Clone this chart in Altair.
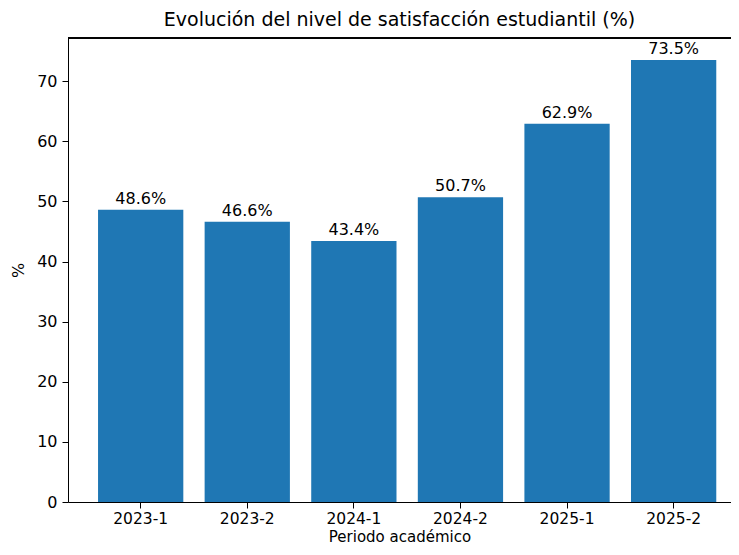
import altair as alt
import pandas as pd

periodos = ["2023-1", "2023-2", "2024-1", "2024-2", "2025-1", "2025-2"]
valores = [48.6, 46.6, 43.4, 50.7, 62.9, 73.5]
etiquetas = [f"{v:.1f}%" for v in valores]

df = pd.DataFrame({"periodo": periodos, "valor": valores, "etiqueta": etiquetas})

W, H = 663, 464
FONT = "DejaVu Sans"
ymax = 73.5 * 1.05

xenc = alt.X(
    "periodo:N",
    sort=periodos,
    title="Periodo académico",
    scale=alt.Scale(paddingInner=0.2, paddingOuter=0.21, align=0.671),
    axis=alt.Axis(labelAngle=0, domainColor="#000", tickColor="#000", tickSize=6,
                  labelPadding=3, labelFontSize=15.5, titleFontSize=15,
                  labelColor="#000", titleColor="#000", titlePadding=3,
                  labelFont=FONT, titleFont=FONT, titleFontWeight="normal"),
)
yenc = alt.Y(
    "valor:Q",
    title="%",
    scale=alt.Scale(domain=[0, ymax], nice=False, zero=True),
    axis=alt.Axis(values=[0, 10, 20, 30, 40, 50, 60, 70], grid=False,
                  domainColor="#000", tickColor="#000", tickSize=6,
                  labelPadding=5, labelFontSize=16, titleFontSize=16,
                  labelColor="#000", titleColor="#000", titlePadding=10,
                  labelFont=FONT, titleFont=FONT, titleFontWeight="normal"),
)

bars = alt.Chart(df).mark_bar(color="#1f77b4").encode(x=xenc, y=yenc)
text = alt.Chart(df).mark_text(baseline="bottom", dy=-3, fontSize=16, font=FONT, color="#000").encode(
    x=alt.X("periodo:N", sort=periodos),
    y="valor:Q",
    text="etiqueta:N",
)
top = alt.Chart(df).mark_rule(color="#000", strokeWidth=1).encode(
    y=alt.value(0), x=alt.value(0), x2=alt.value(W)
)

chart = alt.layer(bars, text, top).properties(
    width=W, height=H,
    title=alt.TitleParams("Evolución del nivel de satisfacción estudiantil (%)",
                          fontSize=19, font=FONT, fontWeight="normal", color="#000", offset=8),
    autosize=alt.AutoSizeParams(type="none"),
    padding={"left": 60, "top": 30, "right": 0, "bottom": 45},
).configure_view(stroke=None)

chart.save("out.html", embed_options={"renderer": "svg", "actions": False})
